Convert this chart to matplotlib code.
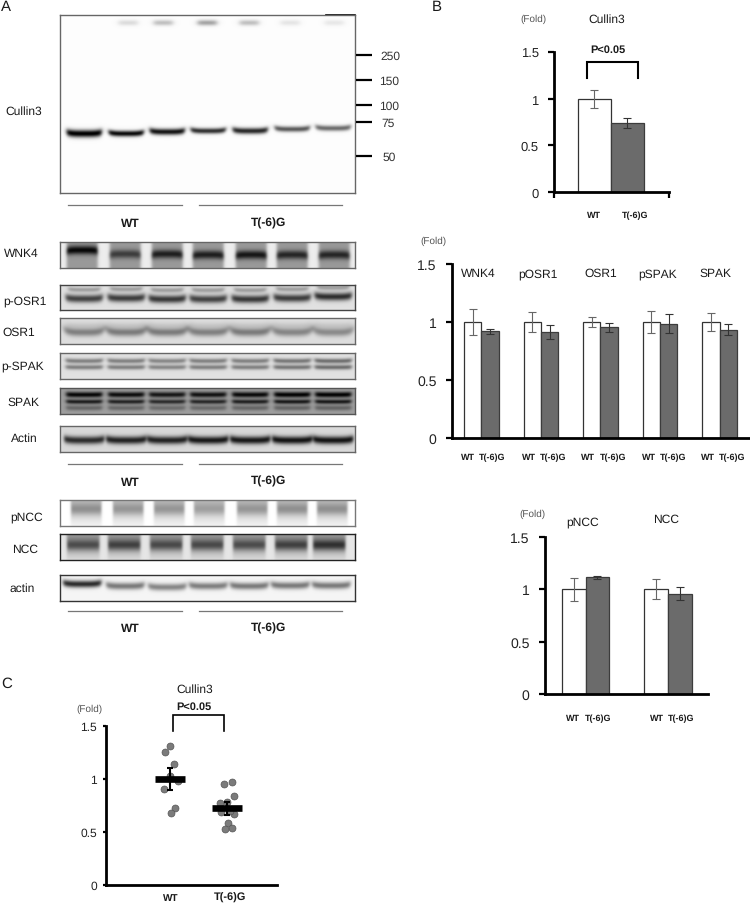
import numpy as np
import matplotlib
matplotlib.use('Agg')
import matplotlib.pyplot as plt

plt.rcParams['font.family'] = ['Liberation Sans', 'DejaVu Sans']
plt.rcParams['text.hinting'] = 'none'
plt.rcParams['text.hinting_factor'] = 1

W, H = 750, 904

# 棒グラフの値
cullin_means = [1.0, 0.74]
cullin_errs = [0.10, 0.05]

kinase_names = ['WNK4', 'pOSR1', 'OSR1', 'pSPAK', 'SPAK']
kinase_wt = [1.0, 1.0, 1.0, 1.0, 1.0]
kinase_wt_err = [0.11, 0.09, 0.04, 0.095, 0.08]
kinase_mut = [0.92, 0.91, 0.955, 0.985, 0.935]
kinase_mut_err = [0.02, 0.06, 0.04, 0.08, 0.05]

ncc_names = ['pNCC', 'NCC']
ncc_wt = [1.0, 1.0]
ncc_wt_err = [0.11, 0.095]
ncc_mut = [1.115, 0.96]
ncc_mut_err = [0.012, 0.06]

# ドットプロットの値
dots_wt = [1.31, 1.257, 1.14, 0.985, 0.903, 0.73, 0.68, 1.03]
dots_wt_dx = [0.005, -0.09, 0.076, 0.135, -0.10, 0.08, 0.01, 0.0]
dots_mut = [0.976, 0.957, 0.837, 0.77, 0.78, 0.69, 0.666, 0.584, 0.537, 0.524, 0.70]
dots_mut_dx = [0.08, -0.05, 0.13, -0.12, 0.0, -0.10, 0.13, 0.01, 0.09, -0.04, 0.05]
dot_means = [1.0, 0.725]
dot_errs = [0.10, 0.06]

y_ticks = [0, 0.5, 1, 1.5]
y_tick_labels = ['0', '0.5', '1', '1.5']
marker_sizes = ['250', '150', '100', '75', '50']
blot_names = ['WNK4', 'p-OSR1', 'OSR1', 'p-SPAK', 'SPAK', 'Actin', 'pNCC', 'NCC', 'actin']

# バンドの濃さ(レーンごと)
cullin_dark = [0.95, 0.92, 0.88, 0.78, 0.80, 0.62, 0.55]
cullin_y = [0.665, 0.665, 0.655, 0.65, 0.65, 0.64, 0.635]
cullin_sig = [3.6, 2.8, 3.0, 2.6, 2.9, 2.6, 2.6]
cullin_top = [0.14, 0.26, 0.38, 0.26, 0.10, 0.09]
wnk4_dark = [0.95, 0.60, 0.80, 0.80, 0.85, 0.75, 0.75]
wnk4_y = [0.30, 0.45, 0.45, 0.48, 0.48, 0.48, 0.48]
posr1_dark = [0.64, 0.66, 0.68, 0.64, 0.68, 0.66, 0.72]
posr1_y = [0.54, 0.52, 0.56, 0.56, 0.56, 0.52, 0.46]
osr1_dark = [0.38, 0.40, 0.40, 0.38, 0.40, 0.36, 0.34]
psak_dark = [0.32, 0.32, 0.30, 0.32, 0.32, 0.35, 0.38]
spak_dark = [0.92, 0.88, 0.82, 0.85, 0.90, 0.95, 0.95]
actin_dark = [0.70, 0.74, 0.74, 0.78, 0.78, 0.80, 0.80]
pncc_dark = [0.50, 0.45, 0.45, 0.38, 0.45, 0.50, 0.50]
ncc_dark = [0.62, 0.70, 0.64, 0.64, 0.62, 0.70, 0.80]
actin2_dark = [0.82, 0.50, 0.45, 0.48, 0.50, 0.50, 0.50]
actin2_y = [0.34, 0.42, 0.46, 0.42, 0.42, 0.40, 0.40]


def px_axes(fig, x0, x1, y_top, y_bottom):
    return fig.add_axes([x0 / W, 1 - y_bottom / H, (x1 - x0) / W, (y_bottom - y_top) / H])


def lane_mask(xx, center, width, edge):
    return 0.5 * (np.tanh((xx - center + width / 2) / edge) - np.tanh((xx - center - width / 2) / edge))


def band(xx, yy, center, width, y0, sigma, smile, edge=2.0):
    # 端が少し上がるバンド
    s = np.clip((xx - center) / (width / 2), -1.3, 1.3)
    yc = y0 - smile * s ** 4
    return lane_mask(xx, center, width, edge) * np.exp(-((yy - yc) / sigma) ** 2)


def grid(box):
    x0, x1, y0, y1 = box
    xs = np.arange(x0, x1, 0.5)
    ys = np.arange(y0, y1, 0.5)
    return np.meshgrid(xs, ys)


def blur(img):
    # 元画像のにじみに合わせて軽くぼかす
    k = np.exp(-np.arange(-4, 5) ** 2 / (2 * 1.4 ** 2))
    k = k / k.sum()
    pad = np.pad(img, 4, mode='edge')
    out = np.apply_along_axis(lambda r: np.convolve(r, k, mode='same'), 0, pad)
    out = np.apply_along_axis(lambda r: np.convolve(r, k, mode='same'), 1, out)
    return out[4:-4, 4:-4]


def show_blot(fig, box, img, edge_color='#666666'):
    x0, x1, y0, y1 = box
    ax = px_axes(fig, x0, x1, y0, y1)
    ax.imshow(np.clip(blur(img), 0, 1), cmap='gray', vmin=0, vmax=1, aspect='auto', interpolation='bilinear')
    ax.set_xticks([])
    ax.set_yticks([])
    for s in ax.spines.values():
        s.set_color(edge_color)
        s.set_linewidth(1.0)
    return ax


def draw_blots(fig):
    lanes = [84, 126, 167, 208, 250, 292, 333]

    # Cullin3
    box = (60, 355, 16, 194)
    xx, yy = grid(box)
    img = np.full(xx.shape, 0.99)
    for c, d, fy, sg in zip(lanes, cullin_dark, cullin_y, cullin_sig):
        img -= d * 1.1 * band(xx, yy, c, 35, 16 + fy * 178, sg, 1.5)
    for c, t in zip([128, 163, 207, 249, 290, 334], cullin_top):
        img -= t * band(xx, yy, c, 19, 23.5, 2.6, 0.0, 3.0)
    ax = show_blot(fig, box, img)
    ax.plot([0.90, 1.0], [1, 1], transform=ax.transAxes, color='black', linewidth=1.2, clip_on=False)

    # WNK4
    box = (60, 355, 243, 269)
    xx, yy = grid(box)
    img = np.full(xx.shape, 0.93)
    for c, d, fy in zip([82, 125, 167, 208, 251, 292, 334], wnk4_dark, wnk4_y):
        img -= 0.33 * lane_mask(xx, c, 31, 1.5)
        img -= d * 0.62 * band(xx, yy, c, 31, 243 + fy * 26, 4.2, -1.0, 1.5)
    show_blot(fig, box, img)

    # p-OSR1
    box = (60, 355, 286, 311)
    xx, yy = grid(box)
    img = np.full(xx.shape, 0.88)
    for c, d, fy in zip(lanes, posr1_dark, posr1_y):
        img -= d * band(xx, yy, c, 37, 286 + fy * 25, 3.8, 1.5)
        img -= 0.28 * band(xx, yy, c, 32, 286 + (fy - 0.36) * 25, 2.2, 1.0)
    show_blot(fig, box, img, '#444444')

    # OSR1
    box = (60, 355, 319, 345)
    xx, yy = grid(box)
    img = np.full(xx.shape, 0.87)
    for c, d in zip(lanes, osr1_dark):
        img -= d * band(xx, yy, c, 40, 319 + 0.54 * 26, 4.0, 3.0, 3.0)
        img -= 0.08 * band(xx, yy, c, 36, 319 + 0.28 * 26, 3.0, 1.0, 3.0)
    show_blot(fig, box, img)

    # p-SPAK
    box = (60, 355, 354, 380)
    xx, yy = grid(box)
    img = np.full(xx.shape, 0.88)
    for c, d in zip(lanes, psak_dark):
        img -= d * 1.3 * band(xx, yy, c, 37, 354 + 0.30 * 26, 2.2, 0.8)
        img -= d * 1.3 * band(xx, yy, c, 37, 354 + 0.54 * 26, 2.2, 0.4)
    show_blot(fig, box, img)

    # SPAK
    box = (60, 355, 389, 415)
    xx, yy = grid(box)
    img = np.full(xx.shape, 0.62)
    for c, d in zip(lanes, spak_dark):
        img -= d * 0.70 * band(xx, yy, c, 36, 389 + 0.25 * 26, 2.6, 0.4)
        img -= d * 0.62 * band(xx, yy, c, 36, 389 + 0.52 * 26, 2.0, 0.4)
        img -= d * 0.26 * band(xx, yy, c, 36, 389 + 0.76 * 26, 2.4, 0.4)
    show_blot(fig, box, img, '#555555')

    # Actin
    box = (60, 355, 427, 453)
    xx, yy = grid(box)
    img = np.full(xx.shape, 0.85)
    for c, d in zip(lanes, actin_dark):
        img -= d * band(xx, yy, c, 40, 427 + 0.54 * 26, 3.8, 1.5, 1.5)
    show_blot(fig, box, img)

    # pNCC
    box = (60, 355, 501, 527)
    xx, yy = grid(box)
    img = np.full(xx.shape, 1.0)
    for c, d in zip([86, 128, 169, 209, 252, 292, 332], pncc_dark):
        fade = np.clip(1.05 - (yy - 501) / 30, 0.2, 1.0)
        img -= 0.25 * lane_mask(xx, c, 31, 1.0) * fade
        img -= d * 0.5 * band(xx, yy, c, 30, 501 + 0.35 * 26, 6.0, 0.0, 1.0)
    show_blot(fig, box, img, '#777777')

    # NCC
    box = (60, 355, 535, 561)
    xx, yy = grid(box)
    img = np.full(xx.shape, 0.90)
    for c, d in zip([83, 124, 166, 207, 249, 291, 329], ncc_dark):
        fade = np.clip(1.15 - (yy - 535) / 26, 0.1, 1.0)
        img -= 0.30 * lane_mask(xx, c, 33, 1.2) * fade
        img -= d * 0.62 * band(xx, yy, c, 32, 535 + 0.42 * 26, 5.5, 0.0, 1.2)
    show_blot(fig, box, img, '#222222')

    # actin(下)
    box = (60, 355, 576, 602)
    xx, yy = grid(box)
    img = np.full(xx.shape, 0.96)
    for c, d, fy in zip([82, 125, 167, 208, 249, 290, 331], actin2_dark, actin2_y):
        img -= d * band(xx, yy, c, 38, 576 + fy * 26, 3.4, 1.5, 2.0)
    show_blot(fig, box, img, '#333333')


def bar_axes(fig, x0, x1, y0, y15, bar_w, tick_size):
    ax = px_axes(fig, x0, x1, y15, y0)
    ax.set_xlim(0, (x1 - x0) / bar_w)
    ax.set_ylim(0, 1.5)
    ax.patch.set_alpha(0)
    ax.spines['top'].set_visible(False)
    ax.spines['right'].set_visible(False)
    ax.spines['left'].set_linewidth(2.0)
    ax.spines['bottom'].set_linewidth(2.0)
    ax.set_yticks(y_ticks)
    ax.set_yticklabels(y_tick_labels, fontsize=tick_size, color='#222222')
    ax.tick_params(axis='y', length=4, width=1.6, pad=7)
    ax.set_xticks([])
    return ax


def draw_bars(ax, centers, wt, wt_err, mut, mut_err):
    centers = np.array(centers)
    ax.bar(centers - 0.5, wt, 1.0, color='white', edgecolor='#333333', linewidth=0.9)
    ax.bar(centers + 0.5, mut, 1.0, color='#6b6b6b', edgecolor='#3c3c3c', linewidth=0.9)
    ax.errorbar(centers - 0.5, wt, yerr=wt_err, fmt='none', ecolor='#666666', elinewidth=0.8, capsize=2.6, capthick=0.8)
    ax.errorbar(centers + 0.5, mut, yerr=mut_err, fmt='none', ecolor='#333333', elinewidth=0.8, capsize=2.6, capthick=0.8)


def main():
    fig = plt.figure(figsize=(W / 100, H / 100), dpi=100, facecolor='white')

    draw_blots(fig)

    # B 上
    ax = bar_axes(fig, 554, 669, 193, 53.3, 33, 9.6)
    draw_bars(ax, [1.727], cullin_means[:1], cullin_errs[:1], cullin_means[1:], cullin_errs[1:])
    ax.set_xticks([0, 115 / 33])
    ax.set_xticklabels([])
    ax.tick_params(axis='x', length=4.5, width=1.6)

    # B 中
    ax = bar_axes(fig, 452, 750, 439, 265, 17.33, 10)
    draw_bars(ax, [1.69, 5.13, 8.56, 12.0, 15.45], kinase_wt, kinase_wt_err, kinase_mut, kinase_mut_err)

    # B 下
    ax = bar_axes(fig, 545, 708, 695, 538, 23.6, 10.4)
    draw_bars(ax, [1.72, 5.21], ncc_wt, ncc_wt_err, ncc_mut, ncc_mut_err)

    # C
    ax = px_axes(fig, 106, 277, 727, 886)
    ax.set_xlim(1 - (170 - 106) / 57, 1 + (277 - 170) / 57)
    ax.set_ylim(0, 1.5)
    ax.patch.set_alpha(0)
    ax.spines['top'].set_visible(False)
    ax.spines['right'].set_visible(False)
    ax.spines['left'].set_linewidth(2.0)
    ax.spines['bottom'].set_linewidth(2.0)
    ax.set_yticks(y_ticks)
    ax.set_yticklabels(y_tick_labels, fontsize=8.8, color='#222222')
    ax.tick_params(axis='y', length=2.5, width=1.6, pad=4)
    ax.set_xticks([])
    ax.scatter(1 + np.array(dots_wt_dx), dots_wt, s=25, color='#7b7b7b', edgecolor='#555555', linewidth=0.5, zorder=2)
    ax.scatter(2 + np.array(dots_mut_dx), dots_mut, s=25, color='#7b7b7b', edgecolor='#555555', linewidth=0.5, zorder=2)
    ax.hlines(dot_means, [0.74, 1.74], [1.26, 2.26], color='black', linewidth=4.8, zorder=3)
    ax.errorbar([1, 2], dot_means, yerr=dot_errs, fmt='none', ecolor='black', elinewidth=1.5, capsize=2.4, capthick=1.5, zorder=4)

    # 文字・線はピクセル座標の全面Axesに置く
    ov = fig.add_axes([0, 0, 1, 1], zorder=10)
    ov.set_xlim(0, W)
    ov.set_ylim(H, 0)
    ov.axis('off')

    def label(x, y, s, size, bold=False, color='#1a1a1a', ha='center'):
        ov.text(x, y, s, fontsize=size, fontweight='bold' if bold else 'normal',
                color=color, ha=ha, va='center')

    label(6, 7, 'A', 10.5)
    label(437, 7, 'B', 10.5)
    label(7, 684, 'C', 10.5)

    # 分子量マーカー
    for y, s, tx in zip([56, 81, 106, 123, 157], marker_sizes, [390, 389, 389, 388, 389]):
        ov.plot([356, 372], [y, y], color='black', linewidth=1.6, solid_capstyle='butt')
        label(tx, y + 1, s, 8.4, color='#333333')

    label(24, 112, 'Cullin3', 8.7)
    blot_x = [21, 25, 19, 23, 23, 24, 27, 25, 22]
    blot_y = [254, 301, 333, 366, 403, 439, 517, 550, 589]
    for x, y, s in zip(blot_x, blot_y, blot_names):
        label(x, y, s, 8.7)

    # WT / T(-6)G の下線
    for y, wt_y, mut_y in zip([206, 465, 612], [224, 483, 629], [223, 481, 628]):
        ov.plot([68, 182], [y, y], color='#777777', linewidth=0.9)
        ov.plot([199, 342], [y, y], color='#777777', linewidth=0.9)
        label(130, wt_y, 'WT', 8.3, bold=True)
        label(269, mut_y, 'T(-6)G', 8.3, bold=True)

    # B 上の文字
    label(533, 19, '(Fold)', 7.2, color='#555555')
    label(607, 20, 'Cullin3', 8.6)
    label(608, 50, 'P<0.05', 8.2, bold=True)
    ov.plot([587, 587, 638, 638], [79, 63, 63, 79], color='black', linewidth=1.5, solid_joinstyle='miter')
    label(594, 216, 'WT', 6.3, bold=True)
    label(635, 216, 'T(-6)G', 6.2, bold=True)

    # B 中の文字
    label(433, 241, '(Fold)', 7.2, color='#555555')
    for x, s in zip([478, 538, 601, 658, 715], kinase_names):
        label(x, 274, s, 8.6)
    for x_wt, x_mut in zip([468, 529, 588, 649, 708], [492, 553, 613, 673, 732]):
        label(x_wt, 458, 'WT', 6.2, bold=True)
        label(x_mut, 458, 'T(-6)G', 6.2, bold=True)

    # B 下の文字
    label(532, 514, '(Fold)', 7.2, color='#555555')
    label(583, 522, 'pNCC', 8.8)
    label(666, 520, 'NCC', 8.8)
    for x_wt, x_mut in zip([573, 657], [598, 681]):
        label(x_wt, 719, 'WT', 6.3, bold=True)
        label(x_mut, 719, 'T(-6)G', 6.3, bold=True)

    # C の文字
    label(89, 709, '(Fold)', 7.2, color='#555555')
    label(195, 690, 'Cullin3', 8.6)
    label(194, 707, 'P<0.05', 8.2, bold=True)
    ov.plot([173, 173, 224, 224], [732, 716, 716, 732], color='black', linewidth=1.2, solid_joinstyle='miter')
    label(171, 898, 'WT', 7.4, bold=True)
    label(230, 898, 'T(-6)G', 7.6, bold=True)

    plt.savefig('out.png', dpi=100)


if __name__ == '__main__':
    main()
